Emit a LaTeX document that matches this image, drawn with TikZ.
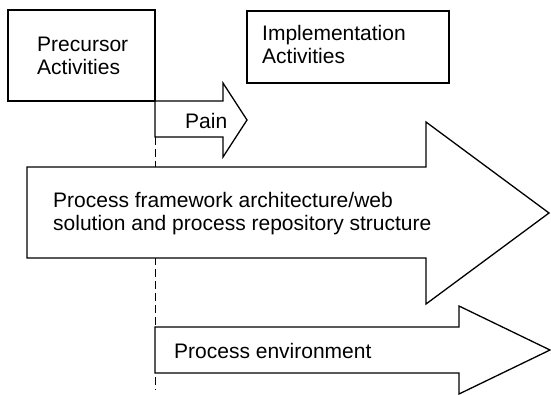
\documentclass[tikz,border=0pt]{standalone}
\usepackage{fontspec}
\setmainfont{Liberation Sans}
\begin{document}
\begin{tikzpicture}[x=1pt,y=-1pt,
  outline/.style={draw=black, line width=1.3pt, fill=white, line join=miter},
  label/.style={inner sep=0pt, anchor=base west, align=left,
    font=\fontsize{21}{23}\selectfont},
  guide/.style={draw=black, line width=1pt, dash pattern=on 8pt off 4pt}]
\useasboundingbox (0,0) rectangle (551,394);
\begin{scope}
\clip (0,0) rectangle (551,394);
% activity boxes
\draw[outline] (8,10) rectangle (155,101);
\draw[outline] (247,11) rectangle (449,83);
% divider between precursor and implementation phases
\coordinate (guideTop) at (155,137);
\coordinate (guideEnd) at (155,390);
\draw[guide] (guideTop) -- (guideEnd);
% pain arrow
\draw[outline] (155,101) -- (223,101) -- (223,83) -- (247,120) -- (223,157)
  -- (223,137) -- (155,137) -- cycle;
% framework arrow
\draw[outline] (27,167) -- (426,167) -- (426,122) -- (549,213) -- (426,304)
  -- (426,258) -- (27,258) -- cycle;
% environment arrow
\draw[outline] (155,327) -- (459,327) -- (459,306) -- (550,350) -- (459,394)
  -- (459,373) -- (155,373) -- cycle;
\end{scope}
% labels (base anchor sits on the last line)
\node[label] (pre) at (37,74) {Precursor\\Activities};
\node[label] (impl) at (262,63) {Implementation\\Activities};
\node[label] (pain) at (185,128) {Pain};
\node[label] (frame) at (53,230) {Process framework architecture/web\\solution and process repository structure};
\node[label] (env) at (174,358) {Process environment};
\end{tikzpicture}
\end{document}
